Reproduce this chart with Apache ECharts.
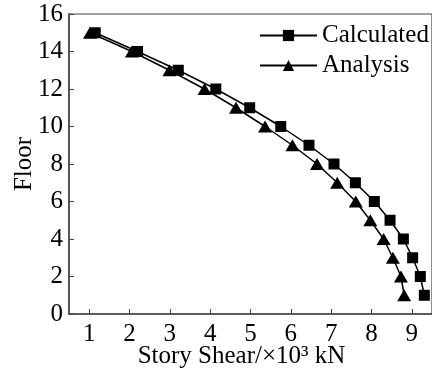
<!DOCTYPE html>
<html>
<head>
<meta charset="utf-8">
<script src="https://cdn.jsdelivr.net/npm/echarts@6/dist/echarts.min.js"></script>
<style>
  html, body { margin: 0; padding: 0; background: #fff; }
  #chart { width: 432px; height: 376px; }
</style>
</head>
<body>
<div id="chart"></div>
<script>
// floors (y) and story shear in 10^3 kN (x)
var floors = [1, 2, 3, 4, 5, 6, 7, 8, 9, 10, 11, 12, 13, 14, 15]
var calculated = [9.31, 9.21, 9.02, 8.79, 8.46, 8.07, 7.6, 7.07, 6.45, 5.75, 4.98, 4.14, 3.21, 2.2, 1.15]
var analysis = [8.81, 8.73, 8.53, 8.3, 7.97, 7.61, 7.15, 6.65, 6.04, 5.36, 4.64, 3.86, 2.99, 2.06, 1.02]
var xTicks = [1, 2, 3, 4, 5, 6, 7, 8, 9]

var font = "'Liberation Serif', 'Times New Roman', serif"

function pairs(xs) {
  return xs.map(function (x, i) { return [x, floors[i]] })
}

var chart = echarts.init(document.getElementById('chart'))
chart.setOption({
  animation: false,
  backgroundColor: '#fff',
  textStyle: { fontFamily: font, color: '#000' },
  grid: {
    left: 69, top: 14, width: 370, height: 300,
    show: true, borderColor: '#444', borderWidth: 1.2
  },
  legend: {
    orient: 'vertical',
    left: 259, top: 23, padding: 0,
    itemWidth: 57, itemHeight: 14, itemGap: 5,
    textStyle: { fontFamily: font, fontSize: 25, color: '#000' },
    data: ['Calculated', 'Analysis']
  },
  xAxis: {
    type: 'value',
    min: 0.5, max: 9.5,
    name: 'Story Shear/×10³ kN',
    nameLocation: 'middle',
    nameGap: 30,
    nameMoveOverlap: false,
    nameTextStyle: { fontFamily: font, fontSize: 25, color: '#000', padding: [0, 18, 0, 0] },
    splitLine: { show: false },
    axisLine: { lineStyle: { color: '#444', width: 1.5 } },
    axisTick: { inside: true, length: 5, customValues: xTicks, lineStyle: { color: '#444' } },
    axisLabel: { customValues: xTicks, margin: 8, fontFamily: font, fontSize: 25, color: '#000' }
  },
  yAxis: {
    type: 'value',
    min: 0, max: 16, interval: 2,
    name: 'Floor',
    nameLocation: 'middle',
    nameGap: 32,
    nameMoveOverlap: false,
    nameTextStyle: { fontFamily: font, fontSize: 25, color: '#000' },
    splitLine: { show: false },
    axisLine: { lineStyle: { color: '#444', width: 1.5 } },
    axisTick: { inside: true, length: 5, lineStyle: { color: '#444' } },
    axisLabel: { margin: 6, fontFamily: font, fontSize: 25, color: '#000' }
  },
  series: [
    {
      name: 'Calculated',
      type: 'line',
      data: pairs(calculated),
      symbol: 'rect',
      symbolSize: 11,
      lineStyle: { color: '#000', width: 1.5 },
      itemStyle: { color: '#000' }
    },
    {
      name: 'Analysis',
      type: 'line',
      data: pairs(analysis),
      symbol: 'triangle',
      symbolSize: [14, 12],
      lineStyle: { color: '#000', width: 1.5 },
      itemStyle: { color: '#000' }
    }
  ]
})
</script>
</body>
</html>
